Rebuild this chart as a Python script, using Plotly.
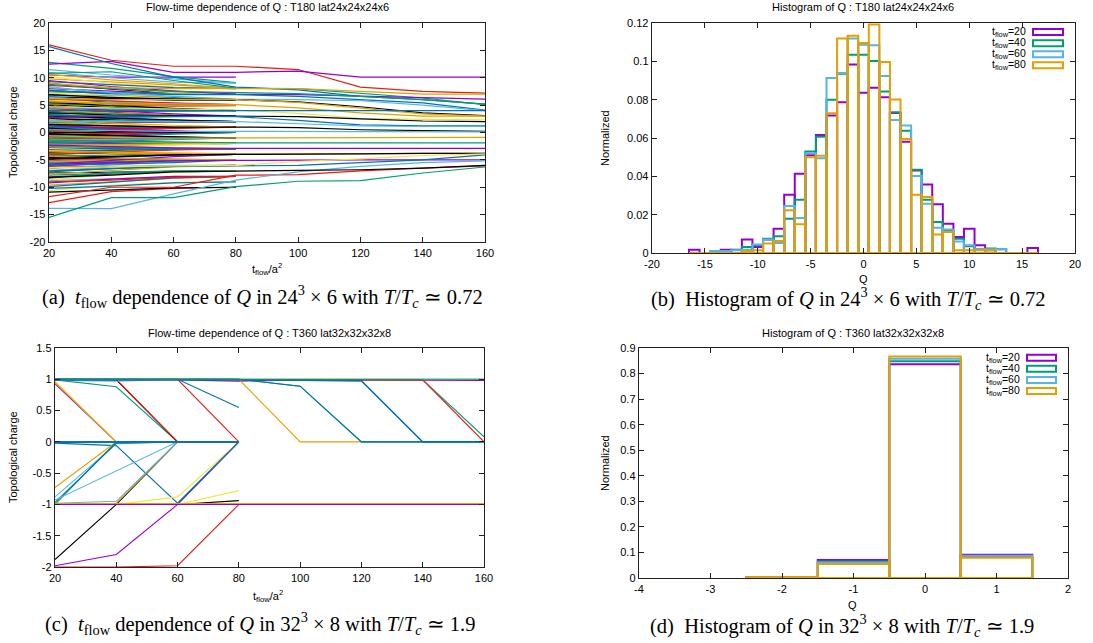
import plotly.graph_objects as go

W, H = 1093, 643
GP = ['#9400d3', '#009e73', '#56b4e9', '#e69f00', '#f0e442', '#0072b2', '#e51e10', '#000000']
PURPLE, GREEN, LBLUE, ORANGE, YELLOW, BLUE, RED, BLACK = GP

# ---------------- data ----------------
T_SHORT = [20, 40, 60, 80]
T_LONG = [20, 40, 60, 80, 100, 120, 140, 160]

# panel (a): flow-time histories of Q, 24^3x6
A_SHORT = [
    [10.5, 10.1, 10.1, 10.1], [12.8, 11.7, 10.2, 9.1], [11.0, 10.0, 9.2, 9.0], [9.8, 9.2, 8.6, 8.1],
    [10.2, 9.0, 8.3, 8.0], [9.3, 8.8, 8.2, 8.0], [8.6, 8.0, 7.4, 7.0], [9.0, 7.9, 7.2, 7.0],
    [8.0, 7.6, 7.1, 7.0], [7.4, 7.2, 7.1, 7.0], [8.4, 7.0, 6.3, 6.0], [7.8, 6.9, 6.2, 6.0],
    [7.2, 6.6, 6.1, 6.0], [6.8, 6.3, 6.1, 6.0], [7.0, 6.1, 6.0, 6.0], [6.5, 6.2, 5.9, 5.9],
    [6.0, 5.7, 5.4, 5.1], [5.7, 5.2, 5.1, 5.0], [6.3, 5.6, 5.2, 5.0], [5.2, 5.0, 5.0, 5.0],
    [5.9, 5.5, 5.1, 5.0], [6.6, 5.4, 5.1, 5.0], [5.4, 5.0, 4.8, 4.9], [5.0, 4.6, 4.2, 4.0],
    [4.6, 4.3, 4.1, 4.0], [5.3, 4.8, 4.3, 4.0], [4.3, 4.1, 4.0, 4.0], [4.9, 4.2, 4.0, 4.0],
    [3.8, 4.0, 4.0, 4.0], [4.1, 3.8, 3.9, 4.0], [4.4, 3.7, 3.2, 3.0], [3.9, 3.4, 3.1, 3.0],
    [3.3, 3.1, 3.0, 3.0], [2.8, 2.9, 3.0, 3.0], [3.7, 3.3, 3.1, 3.0], [4.0, 3.5, 3.2, 3.0],
    [3.5, 3.0, 3.0, 3.0], [2.6, 2.8, 2.9, 3.0], [3.0, 2.9, 3.0, 3.0], [3.2, 2.6, 2.2, 2.0],
    [2.7, 2.4, 2.1, 2.0], [2.3, 2.2, 2.1, 2.0], [2.0, 2.0, 2.0, 2.0], [1.8, 1.9, 2.0, 2.0],
    [2.9, 2.3, 2.1, 2.0], [2.5, 2.1, 2.0, 2.0], [1.6, 1.8, 1.9, 2.0], [2.4, 2.4, 2.1, 2.0],
    [2.1, 1.9, 2.0, 2.0], [3.4, 2.5, 2.0, 2.0], [2.2, 2.0, 2.0, 2.0], [1.9, 1.6, 1.2, 1.0],
    [1.4, 1.2, 1.1, 1.0], [1.1, 1.0, 1.0, 1.0], [0.8, 0.9, 1.0, 1.0], [1.7, 1.3, 1.1, 1.0],
    [1.2, 1.1, 1.0, 1.0], [0.6, 0.8, 0.9, 1.0], [2.2, 1.5, 1.1, 1.0], [1.0, 1.0, 1.0, 1.0],
    [1.5, 1.1, 1.0, 1.0], [0.9, 1.0, 1.0, 1.0], [1.3, 1.2, 1.0, 1.0], [2.6, 1.6, 1.1, 1.0],
    [0.4, 0.7, 0.9, 1.0], [1.8, 1.4, 1.1, 1.0], [0.7, 0.4, 0.1, 0.0], [0.3, 0.2, 0.1, 0.0],
    [-0.2, -0.1, 0.0, 0.0], [0.1, 0.0, 0.0, 0.0], [-0.5, -0.3, -0.1, 0.0], [0.5, 0.1, 0.0, 0.0],
    [-0.3, -0.2, -0.1, 0.0], [0.9, 0.5, 0.2, 0.0], [-0.8, -0.4, -0.1, 0.0], [0.2, 0.1, 0.0, 0.0],
    [-0.1, 0.0, 0.0, 0.0], [1.2, 0.6, 0.2, 0.0], [-0.6, -0.2, 0.0, 0.0], [0.0, 0.0, 0.0, 0.0],
    [-1.1, -0.5, -0.1, 0.0], [0.6, 0.3, 0.1, 0.0], [-0.4, -0.6, -0.9, -1.0], [-0.9, -1.0, -1.0, -1.0],
    [-1.2, -1.1, -1.0, -1.0], [-0.7, -0.8, -0.9, -1.0], [-1.5, -1.2, -1.1, -1.0], [-1.0, -1.0, -1.0, -1.0],
    [-1.8, -1.4, -1.1, -1.0], [-0.5, -0.7, -0.9, -1.0], [-1.3, -1.0, -1.0, -1.0], [-2.0, -1.5, -1.1, -1.0],
    [-0.8, -0.9, -1.0, -1.0], [-1.6, -1.3, -1.1, -1.0], [-1.1, -1.0, -1.0, -1.0], [-0.2, -0.6, -0.9, -1.0],
    [-2.4, -2.1, -2.0, -2.0], [-1.7, -1.9, -2.0, -2.0], [-2.2, -2.0, -2.0, -2.0], [-2.8, -2.4, -2.1, -2.0],
    [-1.4, -1.7, -1.9, -2.0], [-2.0, -2.0, -2.0, -2.0], [-2.6, -2.2, -2.0, -2.0], [-3.0, -2.5, -2.1, -2.0],
    [-1.9, -2.0, -2.0, -2.0], [-2.3, -2.1, -2.0, -2.0], [-3.4, -2.7, -2.2, -2.0], [-1.2, -1.6, -1.9, -2.0],
    [-2.5, -2.3, -2.1, -2.0], [-3.2, -3.1, -3.0, -3.0], [-2.7, -2.9, -3.0, -3.0], [-3.6, -3.3, -3.1, -3.0],
    [-3.0, -3.0, -3.0, -3.0], [-4.1, -3.5, -3.1, -3.0], [-2.4, -2.7, -2.9, -3.0], [-3.8, -3.4, -3.1, -3.0],
    [-3.3, -3.0, -3.0, -3.0], [-2.9, -3.0, -3.0, -3.0], [-4.4, -4.2, -4.0, -4.0], [-3.7, -3.9, -4.0, -4.0],
    [-4.9, -4.4, -4.1, -4.0], [-4.2, -4.1, -4.0, -4.0], [-5.2, -4.6, -4.2, -4.0], [-3.5, -3.8, -3.9, -4.0],
    [-4.6, -4.3, -4.1, -4.0], [-5.6, -5.3, -5.1, -5.0], [-5.0, -5.0, -5.0, -5.0], [-4.6, -4.8, -4.9, -5.0],
    [-6.2, -5.6, -5.2, -5.0], [-5.4, -5.2, -5.0, -5.0], [-6.6, -5.9, -5.3, -5.0], [-5.3, -5.1, -5.0, -5.0],
    [-6.8, -6.4, -6.1, -6.0], [-7.2, -6.6, -6.2, -6.0], [-6.3, -6.2, -6.0, -6.0], [-7.4, -7.2, -7.1, -7.0],
    [-8.1, -7.6, -7.2, -7.0], [-7.8, -7.5, -7.1, -7.0], [-8.8, -8.4, -8.1, -8.0], [-9.6, -9.0, -8.4, -8.0],
    [-10.6, -9.6, -9.1, -9.0], [-10.2, -9.8, -9.2, -9.0], [-12.8, -10.8, -10.2, -10.0], [-10.9, -10.5, -10.1, -10.0],
    [-9.2, -8.5, -8.0, -8.0], [-8.4, -7.3, -7.0, -7.0], [11.5, 10.5, 9.8, 9.0], [10.6, 9.6, 8.9, 8.0],
    [8.9, 8.1, 7.3, 7.0], [7.7, 7.0, 6.4, 6.0], [6.1, 5.8, 5.3, 5.0], [5.5, 4.9, 4.4, 4.0],
    [4.8, 4.0, 3.4, 3.0], [3.6, 3.4, 3.0, 3.0], [2.9, 2.7, 2.2, 2.0], [2.4, 1.7, 1.2, 1.0],
    [1.6, 1.5, 1.2, 1.0], [0.4, 0.2, 0.0, 0.0], [-0.4, -0.1, 0.0, 0.0], [0.8, 0.2, 0.0, 0.0],
    [-0.7, -0.9, -1.0, -1.0], [-1.9, -1.6, -1.2, -1.0], [-1.4, -1.3, -1.1, -1.0], [-2.1, -2.2, -2.1, -2.0],
    [-2.9, -2.6, -2.2, -2.0], [-3.5, -3.2, -3.1, -3.0], [-4.0, -3.6, -3.2, -3.0], [-4.5, -4.4, -4.1, -4.0],
    [-5.8, -5.1, -4.4, -4.0], [-5.9, -5.4, -5.1, -5.0], [-7.0, -6.3, -6.0, -6.0], [-7.6, -6.9, -6.3, -6.0],
    [-8.6, -7.8, -7.3, -7.0], [-9.9, -9.1, -8.3, -8.0], [-9.0, -8.7, -8.2, -8.0], [3.0, 2.6, 2.3, 2.0],
    [1.3, 0.8, 0.3, 0.0], [-1.0, -0.8, -0.3, 0.0], [4.5, 4.4, 4.1, 4.0], [5.8, 5.1, 5.0, 5.0],
    [7.1, 6.9, 6.6, 6.0], [-6.0, -5.8, -5.5, -5.0], [0.2, 0.5, 0.8, 1.0], [-0.3, -0.5, -0.8, -1.0],
    [2.7, 3.0, 3.0, 3.0], [-2.6, -2.8, -2.9, -3.0], [6.4, 6.8, 7.0, 7.0], [-4.3, -4.7, -4.9, -5.0],
]
A_LONG = [
    [16.0, 13.2, 12.1, 12.1, 11.5, 8.3, 7.5, 7.2], [12.5, 13.0, 11.0, 11.0, 11.2, 10.1, 10.1, 10.1],
    [15.7, 12.6, 10.1, 8.3, 7.8, 6.6, 6.0, 5.2], [10.8, 11.1, 9.5, 8.1, 8.0, 7.2, 6.3, 5.1],
    [9.5, 8.4, 7.6, 7.0, 6.9, 6.6, 6.3, 6.1], [8.8, 8.0, 7.5, 7.3, 7.1, 6.6, 6.0, 5.2],
    [7.6, 7.2, 6.9, 6.9, 6.6, 6.0, 5.4, 4.1], [8.2, 7.3, 6.6, 6.1, 6.0, 5.8, 5.0, 4.0],
    [6.9, 6.4, 6.1, 6.0, 5.6, 4.7, 3.6, 3.1], [6.2, 6.0, 6.0, 6.0, 5.5, 4.5, 3.4, 3.0],
    [5.6, 5.4, 5.2, 5.1, 4.5, 3.6, 3.0, 3.0], [4.7, 4.5, 4.2, 4.1, 3.5, 2.6, 2.4, 2.3],
    [3.6, 3.2, 3.1, 3.0, 2.9, 2.5, 2.1, 2.0], [3.1, 3.0, 3.0, 2.9, 2.2, 1.4, 1.2, 1.2],
    [2.0, 2.1, 2.0, 2.0, 1.6, 1.2, 1.1, 1.1], [1.5, 1.2, 1.0, 1.0, 0.9, 0.5, 0.3, 0.2],
    [0.5, 0.3, 0.2, 0.2, 0.2, 0.1, 0.1, 0.1], [-0.6, -0.9, -1.0, -1.0, -0.9, -0.9, -0.9, -0.9],
    [-1.4, -1.6, -1.8, -1.9, -1.9, -1.9, -1.9, -1.9], [-2.3, -2.6, -2.8, -2.9, -2.9, -2.9, -2.9, -2.9],
    [-3.4, -3.6, -3.8, -3.9, -3.9, -3.8, -3.8, -3.8], [-4.8, -4.5, -4.1, -4.0, -4.0, -3.9, -3.8, -3.8],
    [-5.8, -5.5, -5.2, -5.1, -5.0, -5.0, -5.0, -5.0], [-11.7, -10.0, -10.0, -7.8, -7.7, -7.0, -6.5, -6.1],
    [-13.85, -13.9, -11.2, -8.7, -7.2, -6.2, -5.5, -5.2], [-15.5, -11.9, -11.9, -9.9, -8.9, -8.8, -7.4, -6.3],
    [-7.0, -6.6, -6.2, -6.1, -6.0, -5.5, -5.0, -4.1], [-6.4, -6.2, -6.1, -6.0, -5.3, -4.8, -4.2, -3.9],
    [4.0, 4.1, 4.0, 4.0, 4.1, 4.1, 4.0, 4.0], [9.0, 8.2, 8.0, 8.0, 8.0, 7.5, 7.0, 7.0],
    [-8.2, -7.8, -7.2, -7.0, -6.9, -6.8, -6.5, -6.0],
]
A_LONG_COLORS = [RED, PURPLE, BLUE, GREEN, PURPLE, GREEN, BLUE, LBLUE, BLACK, ORANGE, ORANGE, YELLOW,
                 BLACK, BLUE, LBLUE, BLACK, LBLUE, ORANGE, GREEN, PURPLE, ORANGE, BLACK, PURPLE, RED,
                 LBLUE, GREEN, BLUE, YELLOW, BLUE, ORANGE, BLACK]

# panel (b): histogram of Q, 24^3x6
B_Q = list(range(-16, 17))
B_T20 = [0.0017, 0, 0, 0.0017, 0.0017, 0.007, 0.0031, 0.007, 0.0127, 0.0304, 0.0414, 0.051, 0.0616,
         0.0717, 0.0787, 0.0983, 0.0836, 0.0862, 0.0813, 0.073, 0.0581, 0.0431, 0.0357, 0.0254, 0.0153,
         0.0083, 0.0127, 0.004, 0.0014, 0, 0, 0, 0.0026]
B_T40 = [0, 0, 0.001, 0.001, 0.0016, 0.0031, 0.004, 0.0075, 0.0087, 0.0179, 0.0278, 0.053, 0.0607,
         0.0799, 0.0935, 0.1035, 0.1035, 0.1002, 0.0843, 0.0734, 0.0638, 0.0435, 0.0278, 0.0162, 0.0118,
         0.0075, 0.0035, 0.002, 0.0023, 0.002, 0, 0, 0]
B_T60 = [0, 0, 0.001, 0.001, 0.0014, 0.0017, 0.0045, 0.007, 0.0052, 0.0245, 0.0183, 0.052, 0.0495,
         0.0913, 0.0939, 0.1119, 0.1087, 0.1084, 0.0923, 0.0694, 0.0665, 0.0402, 0.0257, 0.0132, 0.0122,
         0.006, 0.004, 0.002, 0.002, 0.002, 0, 0, 0]
B_T80 = [0, 0, 0, 0, 0, 0.001, 0.0014, 0.0049, 0.0063, 0.0223, 0.015, 0.050, 0.0507,
         0.0729, 0.1119, 0.1133, 0.1096, 0.1192, 0.0997, 0.0801, 0.0595, 0.0304, 0.0292, 0.0097, 0.011,
         0.0014, 0.0014, 0.0014, 0.0014, 0, 0, 0, 0]

# panel (c): flow-time histories of Q, 32^3x8
C_SHORT = [
    [0.93, 0.0, 0.0, 0.0], [0.97, 0.0, 0.0, 0.0], [0.95, 0.0, 0.0, 0.0], [0.99, 0.88, 0.0, 0.0],
    [1.0, 0.99, 0.0, 0.0], [1.0, 1.0, 0.0, 0.0], [1.0, 1.0, 1.0, 0.0], [1.0, 1.0, 1.0, 0.55],
    [0.98, 0.97, 1.0, 1.0], [-0.02, -0.06, -0.98, 0.0], [-0.73, 0.0, 0.0, 0.0], [-0.88, -0.03, 0.0, 0.0],
    [-1.0, 0.0, 0.0, 0.0], [-0.97, -0.02, 0.0, 0.0], [-0.93, -0.47, 0.0, 0.0], [-1.0, -1.0, 0.0, 0.0],
    [-1.0, -0.98, 0.0, 0.0], [-0.98, -0.95, 0.0, 0.0], [-1.0, -1.0, -0.88, 0.0], [-1.0, -1.0, -1.0, 0.0],
    [-1.0, -1.0, -0.99, 0.0], [-1.0, -1.0, -1.0, -0.78], [-1.0, -1.0, -1.0, -0.94],
    [0.0, 0.0, 0.0, 0.0], [0.0, 0.0, 0.0, 0.0], [0.0, 0.0, 0.0, 0.0], [0.0, 0.0, 0.0, 0.0],
    [0.0, 0.0, 0.0, 0.0], [-0.01, 0.0, 0.0, 0.0], [0.0, 0.0, 0.0, 0.0],
    [-1.0, -1.0, -1.0, -1.0], [-1.0, -1.0, -1.0, -1.0], [-1.0, -1.0, -1.0, -1.0],
    [1.0, 1.0, 1.0, 1.0], [1.0, 1.0, 1.0, 1.0],
]
C_SHORT_COLORS = [PURPLE, YELLOW, ORANGE, GREEN, BLACK, RED, RED, BLUE, LBLUE, BLUE, ORANGE, LBLUE,
                  GREEN, BLUE, LBLUE, BLACK, ORANGE, LBLUE, YELLOW, PURPLE, BLUE, YELLOW, BLACK,
                  LBLUE, PURPLE, BLACK, ORANGE, GREEN, BLUE, BLUE,
                  RED, GREEN, BLACK, ORANGE, GREEN]
C_LONG = [
    [0.99, 0.99, 0.99, 0.97, 0.99, 0.99, 0.98, 0.98], [1.0, 1.0, 1.0, 1.0, 1.0, 1.0, 0.99, 0.08],
    [1.0, 1.0, 1.0, 1.0, 1.0, 1.0, 1.0, 1.0], [1.0, 1.0, 1.0, 1.0, 0.0, 0.0, 0.0, 0.0],
    [1.0, 1.0, 1.0, 1.0, 1.0, 1.0, 1.0, 1.0], [1.0, 1.0, 1.0, 1.0, 0.99, 0.98, 0.0, 0.0],
    [1.0, 1.0, 1.0, 1.0, 0.99, 0.99, 0.99, 0.0], [-1.0, -1.0, -1.0, -1.0, -1.0, -1.0, -1.0, -1.0],
    [1.0, 1.0, 1.0, 1.0, 0.89, 0.0, 0.0, 0.0], [1.0, 1.0, 1.0, 1.0, 0.89, 0.0, 0.0, 0.0],
    [0.99, 0.99, 1.0, 0.99, 0.98, 0.97, 0.0, 0.0], [-0.99, -0.99, -0.99, -0.99, -0.99, -0.99, -0.99, -0.99],
    [-1.98, -1.8, -1.0, -1.0, -1.0, -1.0, -1.0, -1.0], [-2.0, -2.0, -1.98, -1.0, -1.0, -1.0, -1.0, -1.0],
    [-1.88, -1.0, -1.0, -1.0, -1.0, -1.0, -1.0, -1.0], [-1.0, -1.0, -1.0, -1.0, -1.0, -1.0, -1.0, -1.0],
    [1.0, 1.0, 1.0, 1.0, 1.0, 1.0, 1.0, 1.0], [-0.99, -0.99, -0.99, -0.99, -0.99, -0.99, -0.99, -0.99],
    [-1.0, -1.0, -1.0, -1.0, -1.0, -1.0, -1.0, -1.0],
]
C_LONG_COLORS = [PURPLE, GREEN, LBLUE, ORANGE, YELLOW, BLUE, RED, BLACK, GREEN, BLUE, BLUE, ORANGE,
                 PURPLE, RED, BLACK, PURPLE, GREEN, ORANGE, PURPLE]

# panel (d): histogram of Q, 32^3x8
D_Q = [-2, -1, 0, 1]
D_T20 = [0.003, 0.070, 0.836, 0.091]
D_T40 = [0.003, 0.065, 0.848, 0.084]
D_T60 = [0.003, 0.061, 0.858, 0.087]
D_T80 = [0.003, 0.0545, 0.867, 0.079]

HIST_LABELS = ['t<sub>flow</sub>=20', 't<sub>flow</sub>=40', 't<sub>flow</sub>=60', 't<sub>flow</sub>=80']
HIST_COLORS = [PURPLE, GREEN, LBLUE, ORANGE]

A_XTICKS = [20, 40, 60, 80, 100, 120, 140, 160]
A_YTICKS = [-20, -15, -10, -5, 0, 5, 10, 15, 20]
B_XTICKS = [-20, -15, -10, -5, 0, 5, 10, 15, 20]
B_YTICKS = [0, 0.02, 0.04, 0.06, 0.08, 0.1, 0.12]
C_YTICKS = [-2, -1.5, -1, -0.5, 0, 0.5, 1, 1.5]
D_XTICKS = [-4, -3, -2, -1, 0, 1, 2]
D_YTICKS = [0, 0.1, 0.2, 0.3, 0.4, 0.5, 0.6, 0.7, 0.8, 0.9]

# ---------------- figure ----------------
def fx(x):
    return x / W

def fy(y):
    return 1 - y / H

fig = go.Figure()

def add_lines(rows, ts, colors, xa, ya, lw):
    for i, r in enumerate(rows):
        fig.add_trace(go.Scatter(x=ts, y=r, mode='lines', xaxis=xa, yaxis=ya,
                                 line=dict(color=colors[i], width=lw), showlegend=False,
                                 hoverinfo='skip'))

add_lines(A_SHORT, T_SHORT, [GP[i % 8] for i in range(len(A_SHORT))], 'x', 'y', 1.2)
add_lines(A_LONG, T_LONG, A_LONG_COLORS, 'x', 'y', 1.2)
add_lines(C_SHORT, T_SHORT, C_SHORT_COLORS, 'x3', 'y3', 1.1)
add_lines(C_LONG, T_LONG, C_LONG_COLORS, 'x3', 'y3', 1.1)

for vals, col, lab in zip([B_T20, B_T40, B_T60, B_T80], HIST_COLORS, HIST_LABELS):
    fig.add_trace(go.Bar(x=B_Q, y=vals, width=1, xaxis='x2', yaxis='y2', name=lab,
                         marker=dict(color='rgba(0,0,0,0)', line=dict(color=col, width=2)),
                         showlegend=False))
for vals, col, lab in zip([D_T20, D_T40, D_T60, D_T80], HIST_COLORS, HIST_LABELS):
    fig.add_trace(go.Bar(x=D_Q, y=vals, width=1, xaxis='x4', yaxis='y4', name=lab,
                         marker=dict(color='rgba(0,0,0,0)', line=dict(color=col, width=2)),
                         showlegend=False))

SANS = 'Liberation Sans, Arial, sans-serif'
SERIF = 'Liberation Serif, Times New Roman, serif'
TICKFONT = dict(family=SANS, size=11, color='#000')

def num(v):
    return '%g' % v

def axis(dom, rng, tv, anchor):
    return dict(domain=dom, range=rng, tickvals=tv, ticktext=[num(v) for v in tv],
                showline=True, mirror='ticks', linecolor='#222', linewidth=1.3,
                ticks='inside', ticklen=5, tickcolor='#222', tickwidth=1,
                showgrid=False, zeroline=False, tickfont=TICKFONT, anchor=anchor,
                automargin=False)

PA = (49, 485, 23, 242)
PB = (652, 1075, 23, 253)
PC = (55, 484, 348, 567)
PD = (639, 1068, 348, 578)

def xd(p):
    return [fx(p[0]), fx(p[1])]

def yd(p):
    return [fy(p[3]), fy(p[2])]

fig.update_layout(
    width=W, height=H, margin=dict(l=0, r=0, t=0, b=0, autoexpand=False),
    paper_bgcolor='white', plot_bgcolor='white',
    barmode='overlay', bargap=0, showlegend=False, hovermode=False,
    xaxis=axis(xd(PA), [20, 160], A_XTICKS, 'y'),
    yaxis=axis(yd(PA), [-20, 20], A_YTICKS, 'x'),
    xaxis2=axis(xd(PB), [-20, 20], B_XTICKS, 'y2'),
    yaxis2=axis(yd(PB), [0, 0.12], B_YTICKS, 'x2'),
    xaxis3=axis(xd(PC), [20, 160], A_XTICKS, 'y3'),
    yaxis3=axis(yd(PC), [-2, 1.5], C_YTICKS, 'x3'),
    xaxis4=axis(xd(PD), [-4, 2], D_XTICKS, 'y4'),
    yaxis4=axis(yd(PD), [0, 0.9], D_YTICKS, 'x4'),
)

anns = []
def ann(text, x, y, size=11, family=SANS, angle=0, xanchor='center'):
    anns.append(dict(text=text, x=fx(x), y=fy(y), xref='paper', yref='paper', showarrow=False,
                     xanchor=xanchor, yanchor='middle', textangle=angle,
                     font=dict(family=family, size=size, color='#000')))

# titles
ann('Flow-time dependence of Q : T180 lat24x24x24x6', 267, 7)
ann('Histogram of Q : T180 lat24x24x24x6', 863, 7)
ann('Flow-time dependence of Q : T360 lat32x32x32x8', 269, 333)
ann('Histogram of Q : T360 lat32x32x32x8', 853, 333)
# axis labels
ann('Topological charge', 13, 132, angle=-90)
ann('Normalized', 605, 138, angle=-90)
ann('Topological charge', 13, 457, angle=-90)
ann('Normalized', 605, 463, angle=-90)
ann('t<sub>flow</sub>/a<sup>2</sup>', 267, 269)
ann('Q', 863, 279)
ann('t<sub>flow</sub>/a<sup>2</sup>', 268, 596)
ann('Q', 852, 605)
# captions
CAP = 20.5
ann('(a)\u2002<i>t</i><sub>flow</sub> dependence of <i>Q</i> in 24<sup>3</sup> × 6 with <i>T</i>/<i>T</i><sub><i>c</i></sub> ≃ 0.72',
    262, 296, size=CAP, family=SERIF)
ann('(b)\u2002Histogram of <i>Q</i> in 24<sup>3</sup> × 6 with <i>T</i>/<i>T</i><sub><i>c</i></sub> ≃ 0.72',
    848, 298, size=CAP, family=SERIF)
ann('(c)\u2002<i>t</i><sub>flow</sub> dependence of <i>Q</i> in 32<sup>3</sup> × 8 with <i>T</i>/<i>T</i><sub><i>c</i></sub> ≃ 1.9',
    260, 623, size=CAP, family=SERIF)
ann('(d)\u2002Histogram of <i>Q</i> in 32<sup>3</sup> × 8 with <i>T</i>/<i>T</i><sub><i>c</i></sub> ≃ 1.9',
    842, 625, size=CAP, family=SERIF)

# manual legends (text left of sample box, as in the gnuplot key)
shapes = []
def key(x_text_right, box_x0, box_x1, ys):
    for lab, col, y in zip(HIST_LABELS, HIST_COLORS, ys):
        anns.append(dict(text=lab, x=fx(x_text_right), y=fy(y), xref='paper', yref='paper',
                         showarrow=False, xanchor='right', yanchor='middle',
                         font=dict(family=SANS, size=10.5, color='#000')))
        shapes.append(dict(type='rect', xref='paper', yref='paper', x0=fx(box_x0), x1=fx(box_x1),
                           y0=fy(y + 3), y1=fy(y - 3), line=dict(color=col, width=2),
                           fillcolor='rgba(0,0,0,0)'))

key(1028, 1033, 1063, [32, 43.3, 54.3, 65.3])
key(1022, 1027, 1056, [357.7, 368.7, 380, 391])

fig.update_layout(annotations=anns, shapes=shapes)
fig.write_html('out.html', config={'displayModeBar': False, 'staticPlot': True},
               post_script="document.body.style.margin='0';document.body.style.overflow='hidden';")
